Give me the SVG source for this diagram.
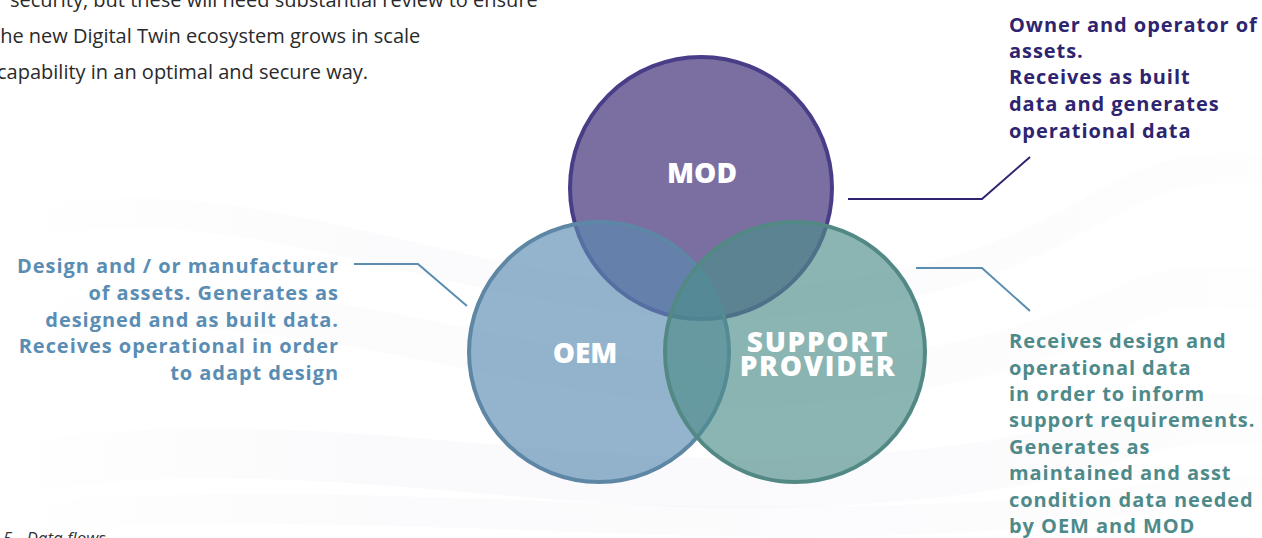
<svg xmlns="http://www.w3.org/2000/svg" width="1262" height="538" viewBox="0 0 1262 538">
  <style>
    .body { font-family: "Open Sans", "Liberation Sans", sans-serif; font-size: 20px; fill: #2a2a2a; }
    .lbl { font-family: "Open Sans", "Liberation Sans", sans-serif; font-size: 20px; font-weight: 700; letter-spacing: 0.95px; }
    .mod-t { fill: #2e2470; }
    .oem-t { fill: #5a8db3; }
    .sup-t { fill: #4e8a8a; }
    .node-t { font-family: "Open Sans", "Liberation Sans", sans-serif; font-weight: 800; font-size: 28px; fill: #ffffff; text-anchor: middle; }
    .cap { font-family: "Open Sans", "Liberation Sans", sans-serif; font-style: italic; font-size: 17px; fill: #333333; }
    .conn { fill: none; stroke-width: 2; }
  </style>
  <defs>
    <linearGradient id="wave" x1="0" y1="0" x2="1" y2="0">
      <stop offset="0" stop-color="#ecebf3" stop-opacity="0"/>
      <stop offset="0.3" stop-color="#ecebf3" stop-opacity="0.6"/>
      <stop offset="0.7" stop-color="#efedf5" stop-opacity="0.6"/>
      <stop offset="1" stop-color="#ecebf3" stop-opacity="0.2"/>
    </linearGradient>
  </defs>
  <rect width="1262" height="538" fill="#ffffff"/>
  <!-- background waves -->
  <g id="background" fill="none" stroke="url(#wave)">
    <path d="M0,230 C250,160 500,330 800,300 S1100,150 1262,170" stroke-width="30" opacity="0.35"/>
    <path d="M0,330 C300,250 550,420 850,380 S1100,270 1262,290" stroke-width="40" opacity="0.3"/>
    <path d="M0,470 C300,420 550,500 850,480 S1100,410 1262,420" stroke-width="50" opacity="0.45"/>
    <path d="M0,520 C300,490 600,530 900,520 S1150,480 1262,490" stroke-width="30" opacity="0.35"/>
  </g>

  <!-- body text -->
  <g id="body-text">
    <text class="body" x="10" y="7">security, but these will need substantial review to ensure</text>
    <text class="body" x="-7" y="43">the new Digital Twin ecosystem grows in scale</text>
    <text class="body" x="-3" y="79">capability in an optimal and secure way.</text>
  </g>

  <!-- connectors -->
  <g id="connectors">
    <polyline class="conn" points="848,199 982,199 1030,157" stroke="#2e2470"/>
    <polyline class="conn" points="916,268 982,268 1030,311" stroke="#5b8db0"/>
    <polyline class="conn" points="354,264 418,264 467,306" stroke="#5b8db0"/>
  </g>

  <!-- nodes -->
  <g id="node-mod">
    <circle cx="701" cy="188" r="131" fill="#7a6fa0" stroke="#4a3d88" stroke-width="4"/>
    <text class="node-t" x="702" y="183">MOD</text>
  </g>
  <g id="node-oem">
    <circle cx="599" cy="352" r="130" fill="rgb(90,139,177)" fill-opacity="0.65" stroke="#5d87a5" stroke-width="4"/>
    <text class="node-t" x="585" y="363">OEM</text>
  </g>
  <g id="node-support">
    <circle cx="795" cy="352" r="130" fill="rgb(77,141,136)" fill-opacity="0.65" stroke="#538985" stroke-width="4"/>
    <text class="node-t" style="letter-spacing:1.7px"><tspan x="818" y="352">SUPPORT</tspan><tspan x="818" y="376">PROVIDER</tspan></text>
  </g>

  <!-- descriptions -->
  <g id="desc-mod" class="lbl mod-t">
    <text x="1009" y="32">Owner and operator of</text>
    <text x="1009" y="58">assets.</text>
    <text x="1009" y="84">Receives as built</text>
    <text x="1009" y="111">data and generates</text>
    <text x="1009" y="138">operational data</text>
  </g>
  <g id="desc-oem" class="lbl oem-t" text-anchor="end">
    <text x="339" y="273">Design and / or manufacturer</text>
    <text x="339" y="300">of assets. Generates as</text>
    <text x="339" y="327">designed and as built data.</text>
    <text x="339" y="353">Receives operational in order</text>
    <text x="339" y="380">to adapt design</text>
  </g>
  <g id="desc-support" class="lbl sup-t">
    <text x="1009" y="348">Receives design and</text>
    <text x="1009" y="375">operational data</text>
    <text x="1009" y="401">in order to inform</text>
    <text x="1009" y="427">support requirements.</text>
    <text x="1009" y="454">Generates as</text>
    <text x="1009" y="480">maintained and asst</text>
    <text x="1009" y="507">condition data needed</text>
    <text x="1009" y="533">by OEM and MOD</text>
  </g>

  <text class="cap" x="3" y="544">5 - Data flows</text>
</svg>
